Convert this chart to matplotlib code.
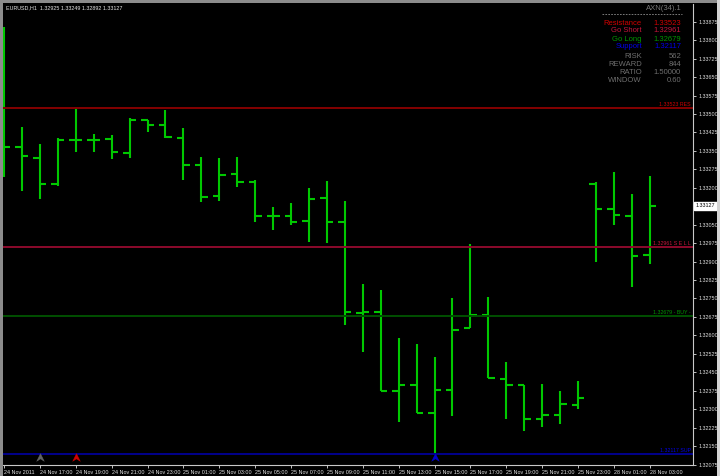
import matplotlib
matplotlib.use("Agg")
import matplotlib.pyplot as plt
import matplotlib.transforms as mtransforms
from matplotlib.lines import Line2D
from matplotlib.patches import Rectangle
from matplotlib.path import Path
import numpy as np

plt.rcParams['font.family'] = ['Liberation Sans', 'DejaVu Sans']

# EURUSD H1, 24 Nov 2011 15:00 -> 28 Nov 2011 03:00
opens = [1.33700, 1.33365, 1.33321, 1.33217, 1.33394, 1.33394, 1.33397, 1.33341, 1.33474, 1.33454,
         1.33404, 1.33291, 1.33167, 1.33255, 1.33222, 1.33085, 1.33087, 1.33064, 1.33157, 1.33060,
         1.32691, 1.32694, 1.32373, 1.32398, 1.32285, 1.32379, 1.32631, 1.32683, 1.32422, 1.32398,
         1.32261, 1.32276, 1.32318, 1.33217, 1.33114, 1.33087, 1.32925]
highs = [1.33854, 1.33448, 1.33377, 1.33401, 1.33520, 1.33417, 1.33413, 1.33485, 1.33477, 1.33515,
         1.33443, 1.33324, 1.33320, 1.33325, 1.33232, 1.33121, 1.33137, 1.33198, 1.33226, 1.33146,
         1.32808, 1.32785, 1.32588, 1.32565, 1.32513, 1.32751, 1.32972, 1.32755, 1.32493, 1.32398,
         1.32404, 1.32375, 1.32416, 1.33225, 1.33265, 1.33176, 1.33249]
lows = [1.33244, 1.33188, 1.33154, 1.33207, 1.33347, 1.33344, 1.33317, 1.33320, 1.33427, 1.33404,
        1.33233, 1.33141, 1.33145, 1.33204, 1.33062, 1.33028, 1.33049, 1.32981, 1.32974, 1.32642,
        1.32534, 1.32374, 1.32249, 1.32283, 1.32121, 1.32272, 1.32631, 1.32426, 1.32260, 1.32213,
        1.32228, 1.32240, 1.32300, 1.32900, 1.33049, 1.32797, 1.32892]
closes = [1.33365, 1.33330, 1.33217, 1.33396, 1.33394, 1.33396, 1.33344, 1.33474, 1.33457, 1.33407,
          1.33291, 1.33164, 1.33253, 1.33222, 1.33087, 1.33085, 1.33061, 1.33156, 1.33060, 1.32694,
          1.32694, 1.32374, 1.32398, 1.32285, 1.32378, 1.32622, 1.32682, 1.32426, 1.32400, 1.32259,
          1.32276, 1.32321, 1.32344, 1.33114, 1.33091, 1.32924, 1.33127]

time_labels = ["24 Nov 2011", "24 Nov 17:00", "24 Nov 19:00", "24 Nov 21:00", "24 Nov 23:00",
               "25 Nov 01:00", "25 Nov 03:00", "25 Nov 05:00", "25 Nov 07:00", "25 Nov 09:00",
               "25 Nov 11:00", "25 Nov 13:00", "25 Nov 15:00", "25 Nov 17:00", "25 Nov 19:00",
               "25 Nov 21:00", "25 Nov 23:00", "28 Nov 01:00", "28 Nov 03:00"]
time_label_bars = list(range(0, 37, 2))

# 1.33125 is hidden behind the current price tag
price_ticks = [1.32075, 1.32150, 1.32225, 1.32300, 1.32375, 1.32450, 1.32525, 1.32600, 1.32675,
               1.32750, 1.32825, 1.32900, 1.32975, 1.33050, 1.33200, 1.33275, 1.33350,
               1.33425, 1.33500, 1.33575, 1.33650, 1.33725, 1.33800, 1.33875]

level_names = ["Resistance", "Go Short", "Go Long", "Support"]
level_values = [1.33523, 1.32961, 1.32679, 1.32117]
level_tags = ["RES", "S E L L", "- BUY -", "SUP"]
level_line_colors = ["#840000", "#8c0a2c", "#005000", "#00008c"]
level_text_colors = ["#d00000", "#c8143c", "#009600", "#0000e6"]

stat_names = ["RISK", "REWARD", "RATIO", "WINDOW"]
stat_values = ["562", "844", "1.50000", "0.60"]

signal_bars = [2, 4, 24]
signal_price = 1.32106
signal_colors = ["#646464", "#d00000", "#0000d0"]

W, H = 720, 476
BAR_GREEN = "#00c800"


def px(x, y):
    # pixel position (from top-left) to figure fraction
    return x / W, 1 - y / H


fig = plt.figure(figsize=(W / 100, H / 100), dpi=100, facecolor="black")
ax = fig.add_axes([3 / W, 11 / H, 690 / W, 461 / H], facecolor="black")

x = np.arange(len(opens))
ax.vlines(x, lows, highs, color=BAR_GREEN, lw=1.5)
ax.hlines(opens, x - 0.36, x, color=BAR_GREEN, lw=1.5)
ax.hlines(closes, x, x + 0.36, color=BAR_GREEN, lw=1.5)

ax.set_xlim(-0.056, 38.41)
ax.set_ylim(1.32073, 1.33947)

# support / resistance levels
blend = mtransforms.blended_transform_factory(ax.transAxes, ax.transData)
for val, tag, lc, tc in zip(level_values, level_tags, level_line_colors, level_text_colors):
    ax.axhline(val, color=lc, lw=1.4)
    ax.text(0.997, val + 0.00004, f"{val:.5f} {tag}", transform=blend, ha="right", va="bottom",
            color=tc, fontsize=3.8)

# signal arrows
chevron = Path([(-1, -1), (0, 1), (1, -1), (0, -0.35), (-1, -1)],
               [Path.MOVETO, Path.LINETO, Path.LINETO, Path.LINETO, Path.CLOSEPOLY])
for b, c in zip(signal_bars, signal_colors):
    ax.plot(b, signal_price, marker=chevron, ms=5.5, color=c, mec=c, mew=0.3, ls="none")

# axes look
for side in ("left", "top"):
    ax.spines[side].set_visible(False)
for side in ("right", "bottom"):
    ax.spines[side].set_color("#c8c8c8")
    ax.spines[side].set_linewidth(0.8)

ax.yaxis.tick_right()
ax.set_yticks(price_ticks)
ax.set_yticklabels([f"{p:.5f}" for p in price_ticks])
ax.tick_params(axis="y", colors="#e0e0e0", labelsize=3.9, length=2.5, width=0.6, pad=1.2)
ax.set_xticks(time_label_bars)
ax.set_xticklabels(time_labels, ha="left")
ax.tick_params(axis="x", colors="#e0e0e0", labelsize=3.9, length=2.5, width=0.6, pad=0.8)

# current price tag
ax.text(1.004, closes[-1], f"{closes[-1]:.5f}", transform=blend, ha="left", va="center",
        color="black", fontsize=3.9,
        bbox=dict(boxstyle="square,pad=0.25", fc="white", ec="white"))

# title
fig.text(*px(6, 8), "EURUSD,H1  " + " ".join(f"{v:.5f}" for v in
         (opens[-1], highs[-1], lows[-1], closes[-1])),
         color="#e6e6e6", fontsize=3.9, ha="left", va="center")

# info panel
fig.text(*px(682, 8), "AXN(34).1", color="#787878", fontsize=5.5, ha="right", va="center")
fig.add_artist(Line2D([602 / W, 682 / W], [1 - 14.3 / H, 1 - 14.3 / H], color="#8c8c8c",
                      lw=0.6, ls=(0, (2, 1.5))))
rows_y = [23.3, 31, 39.3, 47, 56.7, 64.3, 72.3, 80.7]
names = level_names + stat_names
values = [f"{v:.5f}" for v in level_values] + stat_values
colors = level_text_colors + ["#6e6e6e"] * 4
for yy, n, v, c in zip(rows_y, names, values, colors):
    fig.text(*px(642, yy), n, color=c, fontsize=5.5, ha="right", va="center")
    fig.text(*px(681, yy), v, color=c, fontsize=5.5, ha="right", va="center")

# window border
fig.add_artist(Rectangle((0, 0), 3 / W, 1, transform=fig.transFigure, fc="#8c8c8c", ec="none"))
fig.add_artist(Rectangle((0, 1 - 3 / H), 1, 3 / H, transform=fig.transFigure, fc="#8c8c8c", ec="none"))
fig.add_artist(Rectangle((1 - 3 / W, 0), 3 / W, 1, transform=fig.transFigure, fc="#d4d4d4", ec="none"))

fig.savefig("out.png", dpi=100, facecolor="black")
